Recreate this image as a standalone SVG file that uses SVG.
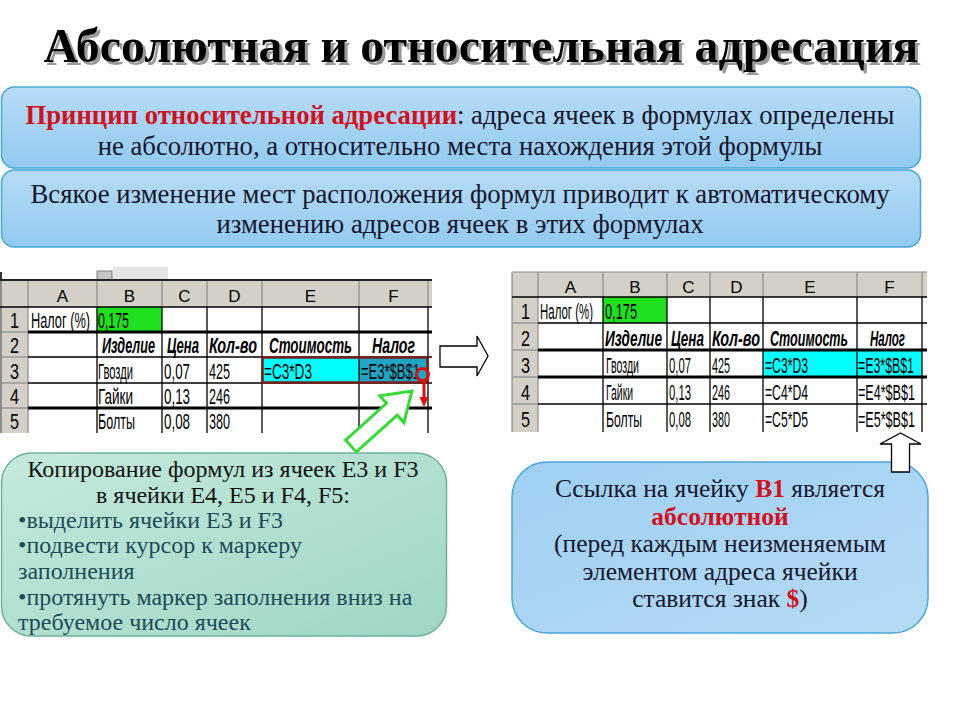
<svg xmlns="http://www.w3.org/2000/svg" width="960" height="720" viewBox="0 0 960 720">
<defs>
<linearGradient id="gBlue" x1="0" y1="0" x2="0" y2="1">
<stop offset="0" stop-color="#b6dcf7"/><stop offset="1" stop-color="#93caf0"/>
</linearGradient>
<linearGradient id="gBlue2" x1="0" y1="0" x2="1" y2="1">
<stop offset="0" stop-color="#9fd0f3"/><stop offset="1" stop-color="#b5dbf6"/>
</linearGradient>
<linearGradient id="gGreen" x1="0" y1="0" x2="1" y2="1">
<stop offset="0" stop-color="#c4eadc"/><stop offset="1" stop-color="#9ed6c4"/>
</linearGradient>
<filter id="sh" x="-5%" y="-20%" width="110%" height="140%">
<feOffset in="SourceAlpha" dx="3" dy="3" result="o"/>
<feFlood flood-color="#9a9a9a"/>
<feComposite in2="o" operator="in" result="s"/>
<feMerge><feMergeNode in="s"/><feMergeNode in="SourceGraphic"/></feMerge>
</filter>
<style>
.ttl{font-family:"Liberation Serif","Times New Roman",serif;font-weight:bold;font-size:48px}
.bx{font-family:"Liberation Serif","Times New Roman",serif;font-size:26.7px;fill:#15152a}
.rb{font-family:"Liberation Serif","Times New Roman",serif;font-size:25.5px;fill:#15152a}
.gx{font-family:"Liberation Serif","Times New Roman",serif;font-size:24px;fill:#111}
.gb{fill:#1d4b58}
.red{fill:#d4101c;font-weight:bold}
.c{font-family:"Liberation Sans",Arial,sans-serif;font-size:22px;fill:#000}
.hd{font-family:"Liberation Sans",Arial,sans-serif;font-size:17px;fill:#000;text-anchor:middle}
.bi{font-weight:bold;font-style:italic}
.gl{stroke:#000;stroke-width:1.3}
.tk{stroke:#000;stroke-width:2.8}
.hg{stroke:#8a8a8a;stroke-width:1.2}
.hdr{fill:#d4d0c8}
.blk{fill:#fff;stroke:#000;stroke-width:1.3}
</style>
</defs>
<rect width="960" height="720" fill="#fff"/>

<g id="title">
<text class="ttl" x="481" y="62" text-anchor="middle" fill="#000" filter="url(#sh)">Абсолютная и относительная адресация</text>
</g>

<g id="box-principle">
<rect x="1.5" y="87" width="919" height="81" rx="13" fill="url(#gBlue)" stroke="#45a8dc" stroke-width="1.5"/>
<text class="bx" x="460" y="124" text-anchor="middle"><tspan class="red">Принцип относительной адресации</tspan>: адреса ячеек в формулах определены</text>
<text class="bx" x="460" y="155" text-anchor="middle">не абсолютно, а относительно места нахождения этой формулы</text>
</g>

<g id="box-change">
<rect x="1.5" y="170" width="919" height="77" rx="13" fill="url(#gBlue)" stroke="#45a8dc" stroke-width="1.5"/>
<text class="bx" x="460" y="203" text-anchor="middle">Всякое изменение мест расположения формул приводит к автоматическому</text>
<text class="bx" x="460" y="233" text-anchor="middle">изменению адресов ячеек в этих формулах</text>
</g>

<g id="sheet-left">
<rect x="0" y="272" width="2" height="9" fill="#333"/>
<rect x="97" y="271" width="15" height="9" fill="#c4c4c4" stroke="#808080" stroke-width="1"/>
<rect x="113" y="267" width="55" height="13" fill="#e4e4e4"/>
<rect x="0" y="281" width="432" height="26" class="hdr"/>
<rect x="0" y="281" width="28" height="152" class="hdr"/>
<rect x="97" y="307" width="65" height="25" fill="#1fe01f"/>
<rect x="262" y="357" width="97" height="26" fill="#00ffff"/>
<rect x="359" y="357" width="69" height="26" fill="#1ea6c4"/>
<line x1="0" y1="280" x2="432" y2="280" stroke="#222" stroke-width="2"/>
<g class="hg">
<line x1="28" y1="281" x2="28" y2="433"/><line x1="97" y1="281" x2="97" y2="307"/><line x1="162" y1="281" x2="162" y2="307"/><line x1="207" y1="281" x2="207" y2="307"/><line x1="262" y1="281" x2="262" y2="307"/><line x1="359" y1="281" x2="359" y2="307"/><line x1="428" y1="281" x2="428" y2="307"/>
<line x1="0" y1="332" x2="28" y2="332"/><line x1="0" y1="357" x2="28" y2="357"/><line x1="0" y1="383" x2="28" y2="383"/><line x1="0" y1="408" x2="28" y2="408"/>
</g>
<line x1="1" y1="281" x2="1" y2="433" stroke="#777" stroke-width="1.5"/>
<g class="gl">
<line x1="0" y1="307" x2="432" y2="307"/>
<line x1="28" y1="357" x2="432" y2="357"/><line x1="28" y1="383" x2="432" y2="383"/>
<line x1="97" y1="307" x2="97" y2="433"/><line x1="162" y1="307" x2="162" y2="433"/><line x1="207" y1="307" x2="207" y2="433"/><line x1="262" y1="307" x2="262" y2="433"/><line x1="359" y1="307" x2="359" y2="433"/><line x1="428" y1="307" x2="428" y2="433"/>
</g>
<line class="tk" x1="28" y1="332" x2="432" y2="332"/>
<line class="tk" x1="28" y1="408" x2="432" y2="408"/>
<rect x="262.5" y="357.5" width="165" height="25" fill="none" stroke="#7a1e1e" stroke-width="2.5"/>
<text class="hd" x="62.5" y="302">A</text><text class="hd" x="129.5" y="302">B</text><text class="hd" x="184.5" y="302">C</text><text class="hd" x="234.5" y="302">D</text><text class="hd" x="310.5" y="302">E</text><text class="hd" x="393.5" y="302">F</text>
<g transform="scale(0.6,1)">
<text class="c" x="16.67" y="328" textLength="15" lengthAdjust="spacingAndGlyphs">1</text>
<text class="c" x="16.67" y="353" textLength="15" lengthAdjust="spacingAndGlyphs">2</text>
<text class="c" x="16.67" y="379" textLength="15" lengthAdjust="spacingAndGlyphs">3</text>
<text class="c" x="16.67" y="404" textLength="15" lengthAdjust="spacingAndGlyphs">4</text>
<text class="c" x="16.67" y="429" textLength="15" lengthAdjust="spacingAndGlyphs">5</text>
<text class="c" x="51.67" y="328" textLength="98.33" lengthAdjust="spacingAndGlyphs">Налог (%)</text>
<text class="c" x="163.33" y="328" textLength="51.67" lengthAdjust="spacingAndGlyphs" fill="#0b3d0b">0,175</text>
<text class="c bi" x="170" y="353" textLength="88.33" lengthAdjust="spacingAndGlyphs">Изделие</text>
<text class="c bi" x="278.33" y="353" textLength="53.33" lengthAdjust="spacingAndGlyphs">Цена</text>
<text class="c bi" x="348.33" y="353" textLength="80" lengthAdjust="spacingAndGlyphs">Кол-во</text>
<text class="c bi" x="448.33" y="353" textLength="138.33" lengthAdjust="spacingAndGlyphs">Стоимость</text>
<text class="c bi" x="620" y="353" textLength="71.67" lengthAdjust="spacingAndGlyphs">Налог</text>
<text class="c" x="163.33" y="379" textLength="58.33" lengthAdjust="spacingAndGlyphs">Гвозди</text>
<text class="c" x="273.33" y="379" textLength="43.33" lengthAdjust="spacingAndGlyphs">0,07</text>
<text class="c" x="348.33" y="379" textLength="35" lengthAdjust="spacingAndGlyphs">425</text>
<text class="c" x="440" y="379" textLength="80" lengthAdjust="spacingAndGlyphs" fill="#0a2a3a">=C3*D3</text>
<text class="c" x="601.67" y="379" textLength="98.33" lengthAdjust="spacingAndGlyphs" fill="#0a2a3a">=E3*$B$1</text>
<text class="c" x="163.33" y="404" textLength="58.33" lengthAdjust="spacingAndGlyphs">Гайки</text>
<text class="c" x="273.33" y="404" textLength="43.33" lengthAdjust="spacingAndGlyphs">0,13</text>
<text class="c" x="348.33" y="404" textLength="35" lengthAdjust="spacingAndGlyphs">246</text>
<text class="c" x="163.33" y="429" textLength="61.67" lengthAdjust="spacingAndGlyphs">Болты</text>
<text class="c" x="273.33" y="429" textLength="43.33" lengthAdjust="spacingAndGlyphs">0,08</text>
<text class="c" x="348.33" y="429" textLength="35" lengthAdjust="spacingAndGlyphs">380</text>
</g>
</g>

<g id="fill-handle">
<circle cx="422.5" cy="374.5" r="6" fill="none" stroke="#e01010" stroke-width="3"/>
<line x1="424" y1="381" x2="424" y2="398" stroke="#e01010" stroke-width="3"/>
<path d="M419.5,397 L428.5,397 L424,407 Z" fill="#e01010"/>
</g>

<g id="sheet-right">
<rect x="512" y="272" width="415" height="25" class="hdr"/>
<rect x="512" y="272" width="26" height="160" class="hdr"/>
<rect x="603" y="297" width="64" height="26" fill="#1fe01f"/>
<rect x="763" y="350" width="94" height="27" fill="#00ffff"/>
<rect x="857" y="350" width="65" height="27" fill="#00ffff"/>
<g class="hg">
<line x1="512" y1="272" x2="927" y2="272"/>
<line x1="512" y1="272" x2="512" y2="432"/>
<line x1="538" y1="272" x2="538" y2="432"/><line x1="603" y1="272" x2="603" y2="297"/><line x1="667" y1="272" x2="667" y2="297"/><line x1="710" y1="272" x2="710" y2="297"/><line x1="763" y1="272" x2="763" y2="297"/><line x1="857" y1="272" x2="857" y2="297"/><line x1="922" y1="272" x2="922" y2="297"/>
<line x1="512" y1="323" x2="538" y2="323"/><line x1="512" y1="350" x2="538" y2="350"/><line x1="512" y1="377" x2="538" y2="377"/><line x1="512" y1="404" x2="538" y2="404"/>
</g>
<g class="gl">
<line x1="512" y1="297" x2="927" y2="297"/><line x1="538" y1="323" x2="927" y2="323"/><line x1="538" y1="404" x2="927" y2="404"/>
<line x1="603" y1="297" x2="603" y2="432"/><line x1="667" y1="297" x2="667" y2="432"/><line x1="710" y1="297" x2="710" y2="432"/><line x1="763" y1="297" x2="763" y2="432"/><line x1="857" y1="297" x2="857" y2="432"/><line x1="922" y1="297" x2="922" y2="432"/>
</g>
<line class="tk" x1="538" y1="350" x2="927" y2="350"/>
<line class="tk" x1="538" y1="377" x2="927" y2="377"/>
<text class="hd" x="570.5" y="293">A</text><text class="hd" x="635" y="293">B</text><text class="hd" x="688.5" y="293">C</text><text class="hd" x="736.5" y="293">D</text><text class="hd" x="810" y="293">E</text><text class="hd" x="889.5" y="293">F</text>
<g transform="scale(0.6,1)">
<text class="c" x="868.33" y="319" textLength="15" lengthAdjust="spacingAndGlyphs">1</text>
<text class="c" x="868.33" y="346" textLength="15" lengthAdjust="spacingAndGlyphs">2</text>
<text class="c" x="868.33" y="373" textLength="15" lengthAdjust="spacingAndGlyphs">3</text>
<text class="c" x="868.33" y="400" textLength="15" lengthAdjust="spacingAndGlyphs">4</text>
<text class="c" x="868.33" y="427" textLength="15" lengthAdjust="spacingAndGlyphs">5</text>
<text class="c" x="900" y="319" textLength="88.33" lengthAdjust="spacingAndGlyphs">Налог (%)</text>
<text class="c" x="1008.33" y="319" textLength="53.33" lengthAdjust="spacingAndGlyphs" fill="#0b3d0b">0,175</text>
<text class="c bi" x="1008.33" y="346" textLength="95" lengthAdjust="spacingAndGlyphs">Изделие</text>
<text class="c bi" x="1118.33" y="346" textLength="55" lengthAdjust="spacingAndGlyphs">Цена</text>
<text class="c bi" x="1186.67" y="346" textLength="80" lengthAdjust="spacingAndGlyphs">Кол-во</text>
<text class="c bi" x="1283.33" y="346" textLength="130" lengthAdjust="spacingAndGlyphs">Стоимость</text>
<text class="c bi" x="1450" y="346" textLength="58.33" lengthAdjust="spacingAndGlyphs">Налог</text>
<text class="c" x="1010" y="373" textLength="55" lengthAdjust="spacingAndGlyphs">Гвозди</text>
<text class="c" x="1115" y="373" textLength="36.67" lengthAdjust="spacingAndGlyphs">0,07</text>
<text class="c" x="1186.67" y="373" textLength="30" lengthAdjust="spacingAndGlyphs">425</text>
<text class="c" x="1275" y="373" textLength="71.67" lengthAdjust="spacingAndGlyphs">=C3*D3</text>
<text class="c" x="1430" y="373" textLength="93.33" lengthAdjust="spacingAndGlyphs">=E3*$B$1</text>
<text class="c" x="1010" y="400" textLength="45" lengthAdjust="spacingAndGlyphs">Гайки</text>
<text class="c" x="1115" y="400" textLength="36.67" lengthAdjust="spacingAndGlyphs">0,13</text>
<text class="c" x="1186.67" y="400" textLength="30" lengthAdjust="spacingAndGlyphs">246</text>
<text class="c" x="1275" y="400" textLength="71.67" lengthAdjust="spacingAndGlyphs">=C4*D4</text>
<text class="c" x="1430" y="400" textLength="95" lengthAdjust="spacingAndGlyphs">=E4*$B$1</text>
<text class="c" x="1010" y="427" textLength="60" lengthAdjust="spacingAndGlyphs">Болты</text>
<text class="c" x="1115" y="427" textLength="36.67" lengthAdjust="spacingAndGlyphs">0,08</text>
<text class="c" x="1186.67" y="427" textLength="30" lengthAdjust="spacingAndGlyphs">380</text>
<text class="c" x="1275" y="427" textLength="71.67" lengthAdjust="spacingAndGlyphs">=C5*D5</text>
<text class="c" x="1430" y="427" textLength="95" lengthAdjust="spacingAndGlyphs">=E5*$B$1</text>
</g>
</g>

<g id="box-copy">
<rect x="1.5" y="453" width="445" height="183" rx="30" fill="url(#gGreen)" stroke="#6cb39a" stroke-width="1.5"/>
<text class="gx" x="223" y="477" text-anchor="middle">Копирование формул из ячеек E3 и F3</text>
<text class="gx" x="223" y="503" text-anchor="middle">в ячейки E4, E5 и F4, F5:</text>
<text class="gx gb" x="18" y="528">•выделить ячейки E3 и F3</text>
<text class="gx gb" x="18" y="553">•подвести курсор к маркеру</text>
<text class="gx gb" x="18" y="579">заполнения</text>
<text class="gx gb" x="18" y="605">•протянуть маркер заполнения вниз на</text>
<text class="gx gb" x="18" y="630">требуемое число ячеек</text>
</g>

<g id="box-absolute">
<rect x="512" y="462" width="416" height="171" rx="35" fill="url(#gBlue2)" stroke="#4aa6da" stroke-width="1.5"/>
<text class="rb" x="720" y="497" text-anchor="middle">Ссылка на ячейку <tspan class="red">B1</tspan> является</text>
<text class="rb red" x="720" y="524.5" text-anchor="middle">абсолютной</text>
<text class="rb" x="720" y="552" text-anchor="middle">(перед каждым неизменяемым</text>
<text class="rb" x="720" y="579.5" text-anchor="middle">элементом адреса ячейки</text>
<text class="rb" x="720" y="607" text-anchor="middle">ставится знак <tspan class="red">$</tspan>)</text>
</g>

<g id="connectors">
<path class="blk" d="M440,346 L477,346 L477,336 L488,356 L477,376 L477,367 L440,367 Z"/>
<path class="blk" d="M900.5,433 L921,444 L909.5,444 L909.5,472 L891.5,472 L891.5,444 L880,444 Z"/>
<path d="M0,-8 L55,-8 L55,-18 L82,0 L55,18 L55,8 L0,8 Z" transform="translate(351,446) rotate(-42)" fill="#fff" stroke="#33dd33" stroke-width="3"/>
</g>
</svg>
